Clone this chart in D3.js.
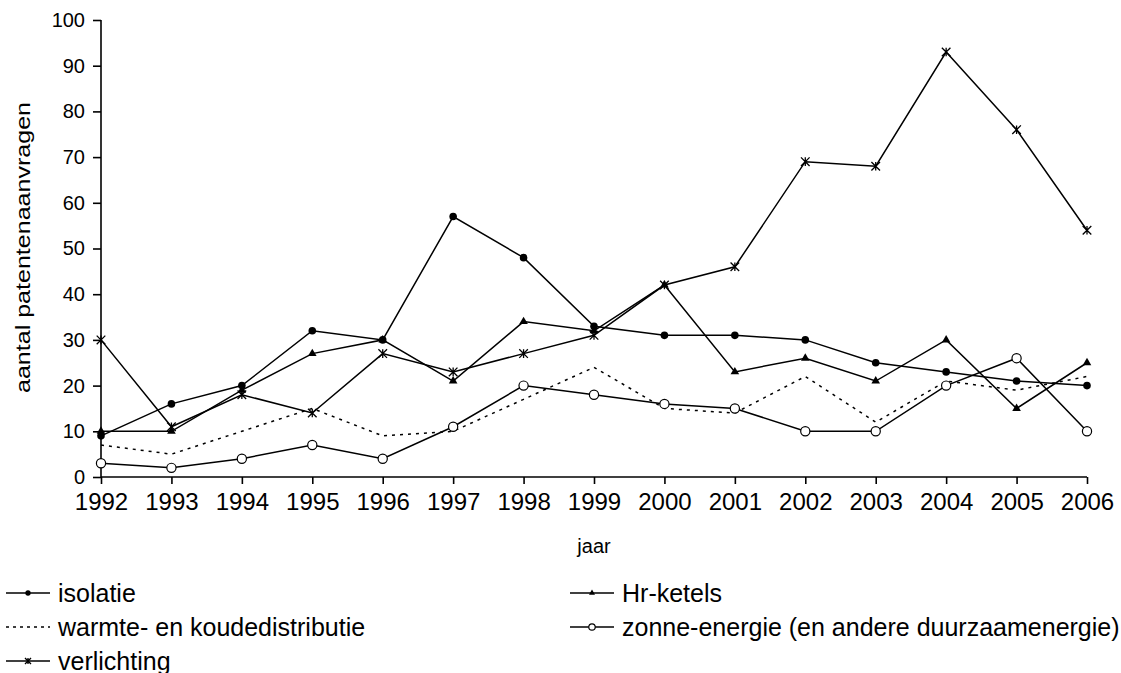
<!DOCTYPE html>
<html><head><meta charset="utf-8">
<script src="https://cdn.jsdelivr.net/npm/d3@7"></script>
<style>body{margin:0;background:#fff}svg text{font-family:"Liberation Sans",Arial,sans-serif;fill:#000}</style>
</head><body>
<svg id="c" width="1121" height="673"></svg>
<script>
const years = [1992,1993,1994,1995,1996,1997,1998,1999,2000,2001,2002,2003,2004,2005,2006];
const isolatie = [9,16,20,32,30,57,48,33,31,31,30,25,23,21,20];
const hrKetels = [10,10,19,27,30,21,34,32,42,23,26,21,30,15,25];
const warmte = [7,5,10,15,9,10,17,24,15,14,22,12,21,19,22];
const zonne = [3,2,4,7,4,11,20,18,16,15,10,10,20,26,10];
const verlichting = [30,11,18,14,27,23,27,31,42,46,69,68,93,76,54];
const yTicks = [0,10,20,30,40,50,60,70,80,90,100];
const seriesNames = ["isolatie","Hr-ketels","warmte- en koudedistributie","zonne-energie (en andere duurzaamenergie)","verlichting"];

const svg = d3.select("#c");
const x = d3.scaleLinear().domain([1992,2006]).range([101,1087]);
const y = d3.scaleLinear().domain([0,100]).range([477,20]);

const series = [
  {name:seriesNames[0], vals:isolatie, marker:"dot", dash:null},
  {name:seriesNames[1], vals:hrKetels, marker:"tri", dash:null},
  {name:seriesNames[2], vals:warmte, marker:"none", dash:"3,5"},
  {name:seriesNames[3], vals:zonne, marker:"circ", dash:null},
  {name:seriesNames[4], vals:verlichting, marker:"star", dash:null}
];

const yAxis = d3.axisLeft(y).tickValues(yTicks).tickSize(8).tickPadding(8);
const gy = svg.append("g").attr("transform","translate(101,0)").call(yAxis);
const xAxis = d3.axisBottom(x).tickValues(years).tickFormat(d3.format("d")).tickSize(7).tickPadding(9);
const gx = svg.append("g").attr("transform","translate(0,477)").call(xAxis);
[gy,gx].forEach(g=>{
  g.selectAll("path.domain").attr("stroke","#000").attr("stroke-width",1.6);
  g.selectAll(".tick line").attr("stroke","#000").attr("stroke-width",1.6);
  g.selectAll("text").style("font-family","'Liberation Sans',Arial,sans-serif").attr("fill","#000");
});
gy.selectAll("text").style("font-size","20px");
gx.selectAll("text").style("font-size","24px");
gx.select("path.domain").attr("d","M101,0H1087");
gy.select("path.domain").attr("d","M0,477V20");

svg.append("text").attr("x",594).attr("y",553).attr("text-anchor","middle").style("font-size","20px").text("jaar");
svg.append("text").attr("transform","translate(30,247.5) rotate(-90)").attr("text-anchor","middle")
  .style("font-size","21px").attr("textLength",291).attr("lengthAdjust","spacingAndGlyphs").text("aantal patentenaanvragen");

function drawMarker(g, type, cx, cy, s) {
  if (type==="dot") g.append("circle").attr("cx",cx).attr("cy",cy).attr("r",3.8*s).attr("fill","#000");
  else if (type==="circ") g.append("circle").attr("cx",cx).attr("cy",cy).attr("r",4.6*s).attr("fill","#fff").attr("stroke","#000").attr("stroke-width",1.2);
  else if (type==="tri") g.append("path").attr("d",d3.symbol(d3.symbolTriangle, 32*s*s)()).attr("transform",`translate(${cx},${cy})`).attr("fill","#000");
  else if (type==="star") {
    const r=4.3*s;
    g.append("path").attr("d",`M${cx-r},${cy-r}L${cx+r},${cy+r}M${cx-r},${cy+r}L${cx+r},${cy-r}M${cx},${cy-r}V${cy+r}`).attr("stroke","#000").attr("stroke-width",1.3).attr("fill","none");
  }
}

const line = d3.line().x((d,i)=>x(years[i])).y(d=>y(d));
series.forEach(s=>{
  const g = svg.append("g");
  g.append("path").attr("d",line(s.vals)).attr("fill","none").attr("stroke","#000").attr("stroke-width",1.5)
    .attr("stroke-dasharray",s.dash);
  s.vals.forEach((v,i)=>drawMarker(g,s.marker,x(years[i]),y(v),1));
});

const legPos = [[6,593],[570,593],[6,627],[570,627],[6,661]];
series.forEach((s,i)=>{
  const [lx,ly] = legPos[i];
  const g = svg.append("g");
  g.append("line").attr("x1",lx).attr("x2",lx+44).attr("y1",ly).attr("y2",ly).attr("stroke","#000").attr("stroke-width",1.5).attr("stroke-dasharray",s.dash?"3,4":null);
  drawMarker(g,s.marker,lx+22,ly,0.7);
  g.append("text").attr("x",lx+52).attr("y",ly+8.5).style("font-size","25px").text(s.name);
});
</script>
</body></html>
